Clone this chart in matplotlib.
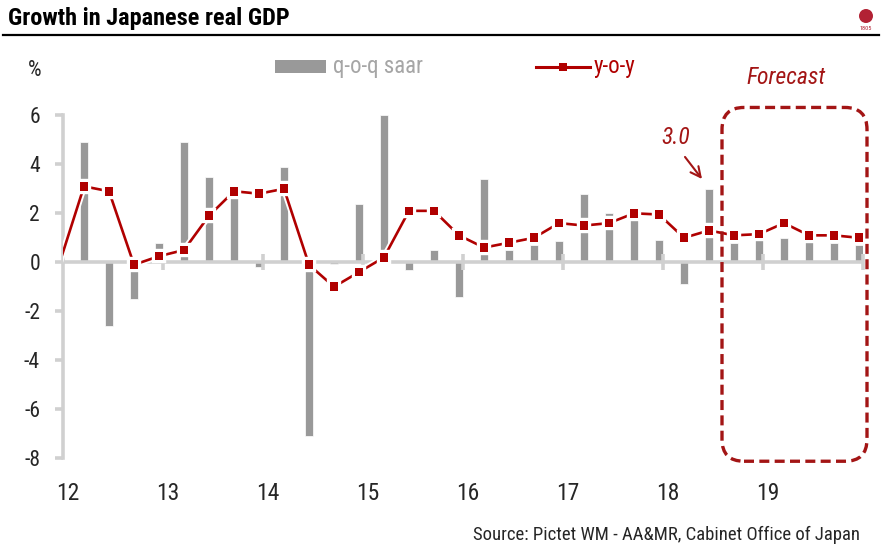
import numpy as np
import matplotlib
matplotlib.use('Agg')
import matplotlib.pyplot as plt
from matplotlib import font_manager as fm
from matplotlib.patches import FancyBboxPatch, Rectangle, Ellipse
from matplotlib.lines import Line2D
import matplotlib.patheffects as pe

# ---------------- data ----------------
quarters = ['2011Q4',
            '2012Q1', '2012Q2', '2012Q3', '2012Q4',
            '2013Q1', '2013Q2', '2013Q3', '2013Q4',
            '2014Q1', '2014Q2', '2014Q3', '2014Q4',
            '2015Q1', '2015Q2', '2015Q3', '2015Q4',
            '2016Q1', '2016Q2', '2016Q3', '2016Q4',
            '2017Q1', '2017Q2', '2017Q3', '2017Q4',
            '2018Q1', '2018Q2', '2018Q3', '2018Q4',
            '2019Q1', '2019Q2', '2019Q3', '2019Q4']
qoq_saar = [np.nan,
            4.9, -2.6, -1.5, 0.8,
            4.9, 3.5, 2.7, -0.2,
            3.9, -7.1, -0.05, 2.4,
            6.0, -0.3, 0.5, -1.4,
            3.4, 0.5, 0.7, 0.85,
            2.8, 2.0, 2.3, 0.9,
            -0.9, 3.0, 0.8, 0.9,
            1.0, 0.85, 0.8, 0.7]
yoy = [-0.1,
       3.1, 2.9, -0.1, 0.25,
       0.5, 1.9, 2.9, 2.8,
       3.0, -0.1, -1.0, -0.4,
       0.2, 2.1, 2.1, 1.1,
       0.6, 0.8, 1.0, 1.6,
       1.5, 1.6, 2.0, 1.95,
       1.0, 1.3, 1.1, 1.15,
       1.6, 1.1, 1.1, 1.0]
year_labels = ['12', '13', '14', '15', '16', '17', '18', '19']
years = [2012, 2013, 2014, 2015, 2016, 2017, 2018, 2019, 2020]
yticks = [6, 4, 2, 0, -2, -4, -6, -8]
forecast_start = '2018Q3'
highlight_q = '2018Q2'
highlight_label = '3.0'

# ---------------- fonts ----------------
avail = {f.name for f in fm.fontManager.ttflist}
narrow = next((f for f in ['Liberation Sans Narrow', 'Roboto Condensed',
                           'DejaVu Sans Condensed', 'Liberation Sans']
               if f in avail), 'DejaVu Sans')
plt.rcParams['font.family'] = [narrow, 'DejaVu Sans']

RED = '#b00000'
BOXRED = '#a31515'
GRAY = '#999999'
AXGRAY = '#d0d0d0'
TXT = '#262626'

def qpos(q):
    y, n = q.split('Q')
    return int(y) + (int(n) - 1) * 0.25 + 0.21

x = np.array([qpos(q) for q in quarters])
qoq = np.array(qoq_saar, dtype=float)
yy = np.array(yoy, dtype=float)

W, H = 887, 552
fig = plt.figure(figsize=(W / 100, H / 100), dpi=100)
ax_l, ax_r, ax_t, ax_b = 63, 863, 115.3, 458.3
ax = fig.add_axes([ax_l / W, 1 - ax_b / H, (ax_r - ax_l) / W, (ax_b - ax_t) / H])
ax.patch.set_alpha(0)

# bars
ax.bar(x, qoq, width=0.085, color=GRAY, edgecolor='white', linewidth=0.5, zorder=2)
# zero axis line
ax.axhline(0, color=AXGRAY, lw=2.6, zorder=2.5)
# year tick marks crossing the zero line
ax.plot(years[1:], np.zeros(len(years) - 1), ls='none', marker='|', ms=12,
        mew=2.6, color=AXGRAY, zorder=2.6, clip_on=False)
# y-o-y line
ln, = ax.plot(x, yy, color=RED, lw=1.9, marker='s', ms=6.2, mew=0,
              markevery=list(range(1, len(x))), zorder=4)
ln.set_path_effects([pe.Stroke(linewidth=4.6, foreground='white'), pe.Normal()])

ax.set_xlim(years[0], years[-1])
ax.set_ylim(-8, 6)
ax.set_yticks(yticks)
ax.set_yticklabels([str(v) for v in yticks], fontsize=15.5, color=TXT)
ax.tick_params(axis='y', direction='out', length=5.5, width=2.6, color=AXGRAY, pad=11)
ax.set_xticks([yr + 0.05 for yr in years[:-1]])
ax.set_xticklabels(year_labels, fontsize=17, color=TXT)
ax.tick_params(axis='x', length=0, pad=17)
for s in ['top', 'right', 'bottom']:
    ax.spines[s].set_visible(False)
ax.spines['left'].set_color(AXGRAY)
ax.spines['left'].set_linewidth(2.6)

# forecast box
fx0 = qpos(forecast_start) - 0.12
fx1 = qpos(quarters[-1]) + 0.08
box = FancyBboxPatch((fx0, -8.12), fx1 - fx0, 6.32 + 8.12,
                     boxstyle='round,pad=0,rounding_size=0.22', mutation_aspect=4.08,
                     fill=False, edgecolor=BOXRED, lw=2.4, ls=(0, (3, 1.6)),
                     clip_on=False, zorder=5)
ax.add_patch(box)
ax.text(fx0 + 0.64, 7.55, 'Forecast', color=BOXRED, fontsize=17, style='italic',
        ha='center', va='center', clip_on=False)

# 3.0 annotation
hx = qpos(highlight_q)
ax.text(hx - 0.33, 5.1, highlight_label, color=BOXRED, fontsize=17, style='italic',
        ha='center', va='center')
ax.annotate('', xy=(hx - 0.07, 3.4), xytext=(hx - 0.24, 4.3),
            arrowprops=dict(arrowstyle='->', color=BOXRED, lw=1.5, mutation_scale=18,
                            shrinkA=0, shrinkB=0))

# ---------------- overlay decorations (pixel coords) ----------------
ov = fig.add_axes([0, 0, 1, 1], zorder=10)
ov.set_xlim(0, W)
ov.set_ylim(H, 0)
ov.axis('off')
ov.patch.set_alpha(0)

ov.text(8, 18, 'Growth in Japanese real GDP', fontsize=17.5, fontweight='bold',
        color='black', ha='left', va='center')
ov.add_line(Line2D([3, 879], [35, 35], color='black', lw=1.6))
ov.text(35, 70, '%', fontsize=15.5, color=TXT, ha='center', va='center')

# legend
ov.add_patch(Rectangle((275, 60), 51, 13, color=GRAY, lw=0))
ov.text(333, 66, 'q-o-q saar', fontsize=16.5, color='#a6a6a6', ha='left', va='center')
ov.add_line(Line2D([536, 590], [67, 67], color=RED, lw=2.2))
ov.plot([563], [67], marker='s', ms=6.2, color=RED, mew=0)
ov.text(594, 66, 'y-o-y', fontsize=16.5, color=RED, ha='left', va='center')

# source
ov.text(860, 535, 'Source: Pictet WM - AA&MR, Cabinet Office of Japan', fontsize=13.5,
        color=TXT, ha='right', va='center')

# small logo
ov.add_patch(Ellipse((866, 16), 14, 14, color='#b22234', lw=0))
ov.text(866, 28, '1805', fontsize=4.5, color='#b22234', ha='center', va='center')

fig.savefig('out.png', dpi=100)
